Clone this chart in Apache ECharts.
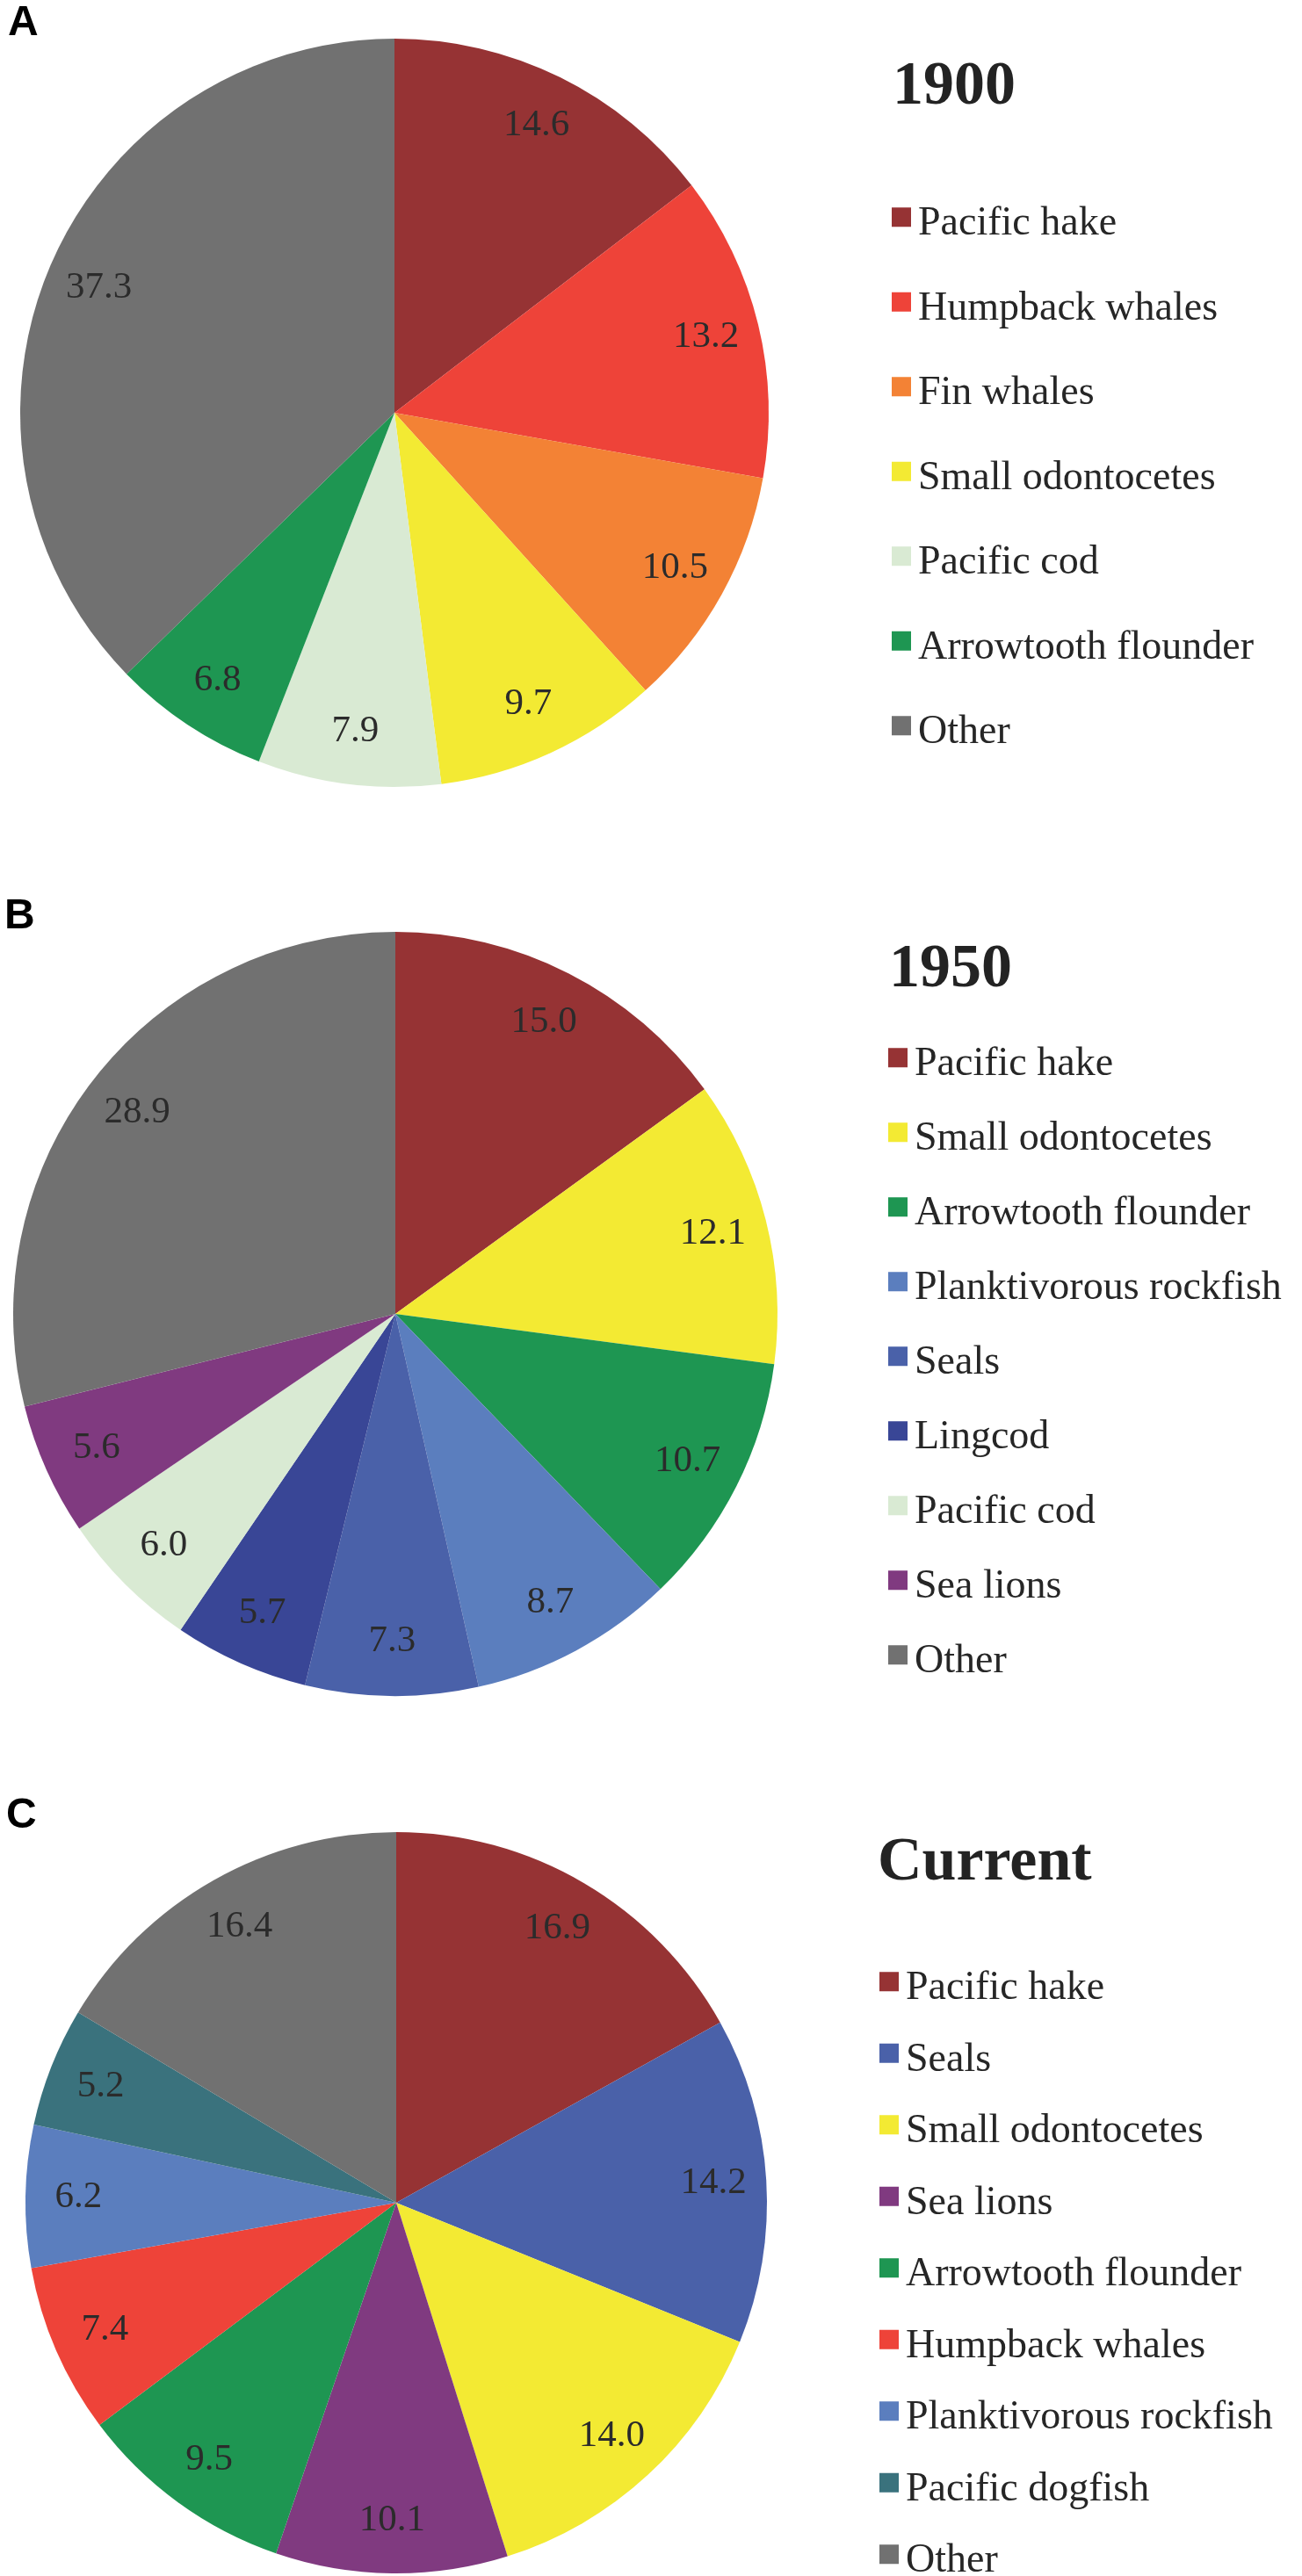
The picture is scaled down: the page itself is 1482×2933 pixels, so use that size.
<!DOCTYPE html>
<html>
<head>
<meta charset="utf-8">
<script src="https://cdn.jsdelivr.net/npm/echarts@6/dist/echarts.min.js"></script>
<style>
    html, body { margin: 0; padding: 0; background: #fff; }
    #chart { width: 1482px; height: 2933px; }
</style>
</head>
<body>
<div id="chart"></div>
<script>
// data (clockwise from 12 o'clock)
const names1900 = ['Pacific hake', 'Humpback whales', 'Fin whales', 'Small odontocetes', 'Pacific cod', 'Arrowtooth flounder', 'Other']
const values1900 = [14.6, 13.2, 10.5, 9.7, 7.9, 6.8, 37.3]

const names1950 = ['Pacific hake', 'Small odontocetes', 'Arrowtooth flounder', 'Planktivorous rockfish', 'Seals', 'Lingcod', 'Pacific cod', 'Sea lions', 'Other']
const values1950 = [15.0, 12.1, 10.7, 8.7, 7.3, 5.7, 6.0, 5.6, 28.9]

const namesCurrent = ['Pacific hake', 'Seals', 'Small odontocetes', 'Sea lions', 'Arrowtooth flounder', 'Humpback whales', 'Planktivorous rockfish', 'Pacific dogfish', 'Other']
const valuesCurrent = [16.9, 14.2, 14.0, 10.1, 9.5, 7.4, 6.2, 5.2, 16.4]

const panelTitles = ['1900', '1950', 'Current']
const panelLetters = ['A', 'B', 'C']

const colors = {
    'Pacific hake': '#963334',
    'Humpback whales': '#ee4339',
    'Fin whales': '#f38235',
    'Small odontocetes': '#f3ea33',
    'Pacific cod': '#d9ead3',
    'Arrowtooth flounder': '#1e9652',
    'Other': '#717171',
    'Planktivorous rockfish': '#5b7ebe',
    'Seals': '#4a61a9',
    'Lingcod': '#394696',
    'Sea lions': '#803a80',
    'Pacific dogfish': '#3a727d'
}

const serif = 'Liberation Serif'
const sans = 'Liberation Sans'

// layout of each panel
const panels = [
    { names: names1900, values: values1900, center: [449, 470], r: 426, legendLeft: 1015, legendTop: 232, gap: 50.5, titleLeft: 1016, titleTop: 65, letterLeft: 9, letterTop: 3 },
    { names: names1950, values: values1950, center: [450, 1496], r: 435, legendLeft: 1011, legendTop: 1189, gap: 39, titleLeft: 1012, titleTop: 1070, letterLeft: 5, letterTop: 1020 },
    { names: namesCurrent, values: valuesCurrent, center: [451, 2508], r: 422, legendLeft: 1001, legendTop: 2241, gap: 35.5, titleLeft: 999, titleTop: 2087, letterLeft: 7, letterTop: 2044 }
]

const myChart = echarts.init(document.getElementById('chart'))

const mainSeries = panels.map(p => ({
    type: 'pie',
    center: p.center,
    radius: p.r,
    startAngle: 90,
    clockwise: true,
    animation: false,
    label: { show: false },
    labelLine: { show: false },
    itemStyle: { borderWidth: 0 },
    emphasis: { disabled: true },
    data: p.names.map((n, i) => ({ name: n, value: p.values[i], itemStyle: { color: colors[n] } }))
}))

// transparent ring on top, only used to put the value labels at ~0.85 r
const labelSeries = panels.map(p => ({
    type: 'pie',
    center: p.center,
    radius: [p.r * 0.7, p.r],
    startAngle: 90,
    clockwise: true,
    animation: false,
    silent: true,
    legendHoverLink: false,
    itemStyle: { color: 'rgba(0,0,0,0)', borderWidth: 0 },
    label: {
        show: true,
        position: 'inside',
        formatter: params => params.value.toFixed(1),
        fontFamily: serif,
        fontSize: 43,
        color: '#2b2b2b'
    },
    labelLine: { show: false },
    data: p.names.map((n, i) => ({ name: n, value: p.values[i] }))
}))

const option = {
    backgroundColor: '#fff',
    animation: false,
    textStyle: { fontFamily: serif },
    title: panels.map((p, i) => ({
        text: panelTitles[i],
        left: p.titleLeft,
        top: p.titleTop,
        padding: 0,
        textStyle: { fontFamily: serif, fontWeight: 'bold', fontSize: 70, color: '#232323' }
    })),
    legend: panels.map(p => ({
        orient: 'vertical',
        left: p.legendLeft,
        top: p.legendTop,
        height: 900,
        padding: 0,
        itemWidth: 22,
        itemHeight: 37.4,
        itemGap: p.gap,
        selectedMode: false,
        icon: 'path://M0,0L10,0L10,10L0,10Z M0,17L0.001,17',
        itemStyle: { borderWidth: 0 },
        textStyle: { fontFamily: serif, fontSize: 46, lineHeight: 46, color: '#262626', padding: [0, 0, 0, 3] },
        data: p.names.map(n => ({ name: n, itemStyle: { color: colors[n] } }))
    })),
    graphic: panels.map((p, i) => ({
        type: 'text',
        left: p.letterLeft,
        top: p.letterTop,
        style: { text: panelLetters[i], fontFamily: sans, fontWeight: 'bold', fontSize: 48, fill: '#000' }
    })),
    series: mainSeries.concat(labelSeries)
}

myChart.setOption(option)
</script>
</body>
</html>
